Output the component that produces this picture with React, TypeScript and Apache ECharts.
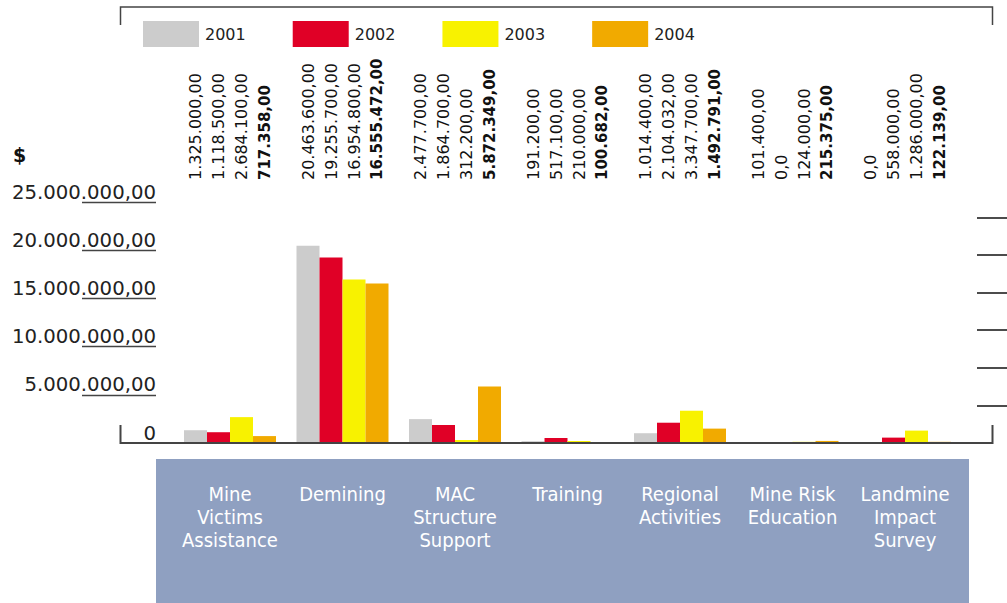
import React, { useEffect, useRef } from "react";
import * as echarts from "echarts";

const categories = [
  "Mine\nVictims\nAssistance",
  "Demining",
  "MAC\nStructure\nSupport",
  "Training",
  "Regional\nActivities",
  "Mine Risk\nEducation",
  "Landmine\nImpact\nSurvey",
];
const years = ["2001", "2002", "2003", "2004"];
const values2001 = [1325000, 20463600, 2477700, 191200, 1014400, 101400, 0];
const values2002 = [1118500, 19255700, 1864700, 517100, 2104032, 0, 558000];
const values2003 = [2684100, 16954800, 312200, 210000, 3347700, 124000, 1286000];
const values2004 = [717358, 16555472, 5872349, 100682, 1492791, 215375, 122139];
const yTicks = [0, 5000000, 10000000, 15000000, 20000000, 25000000];
const colors = ["#cccccc", "#e00026", "#f8f200", "#f1aa00"];

const seriesValues = [values2001, values2002, values2003, values2004];

function fmt(v: number): string {
  if (v === 0) return "0,0";
  const s = Math.round(v).toString();
  return s.replace(/\B(?=(\d{3})+(?!\d))/g, ".") + ",00";
}

const BAR_W = 23;
const FONT = "'DejaVu Sans', Verdana, sans-serif";

export default function App() {
  const ref = useRef<HTMLDivElement>(null);
  useEffect(() => {
    document.body.style.margin = "0";
    const chart = echarts.init(ref.current!, null, { renderer: "svg" });
    const barSeries = years.map((y, k) => ({
      name: y,
      type: "bar",
      xAxisIndex: 0,
      yAxisIndex: 0,
      barWidth: BAR_W,
      barGap: "0%",
      itemStyle: { color: colors[k] },
      data: seriesValues[k],
    }));
    const labelSeries = years.map((y, k) => ({
      name: "lbl" + y,
      type: "custom",
      xAxisIndex: 0,
      yAxisIndex: 0,
      clip: false,
      encode: { x: 0, y: 1 },
      data: seriesValues[k].map((v, i) => [i, v]),
      renderItem: (params: any, api: any) => {
        const idx = api.value(0);
        const v = api.value(1);
        const pt = api.coord([idx, 0]);
        const x = pt[0] + (k - 1.5) * BAR_W;
        const yb = params.coordSys.y - 22;
        return {
          type: "text",
          x,
          y: yb,
          rotation: Math.PI / 2,
          style: {
            text: fmt(v),
            align: "left",
            verticalAlign: "middle",
            fontSize: k === 3 ? 15 : 16,
            fontFamily: FONT,
            fontWeight: k === 3 ? "bold" : "normal",
            fill: "#111",
          },
        };
      },
    }));
    const option: any = {
      animation: false,
      backgroundColor: "#ffffff",
      title: {
        text: "$",
        left: 13,
        top: 145,
        padding: 0,
        textStyle: { fontSize: 19, fontWeight: "bold", fontFamily: FONT, color: "#111" },
      },
      legend: {
        data: years,
        left: 143,
        top: 21,
        padding: 0,
        itemWidth: 56,
        itemHeight: 26,
        itemGap: 47,
        icon: "rect",
        textStyle: { fontSize: 16, fontFamily: FONT, color: "#222", padding: [0, 0, 0, 1] },
      },
      grid: { left: 173.75, right: 45.75, top: 202, bottom: 160 },
      xAxis: {
        type: "category",
        data: categories,
        axisLine: { show: false },
        axisTick: { show: false },
        axisLabel: {
          interval: 0,
          color: "#ffffff",
          fontSize: 20,
          lineHeight: 23,
          margin: 39,
          fontFamily: "'DejaVu Sans Condensed', 'Liberation Sans Narrow', sans-serif",
        },
      },
      yAxis: [
        {
          type: "value",
          min: 0,
          max: 25000000,
          interval: 5000000,
          position: "left",
          offset: 17.75,
          axisLine: { show: false },
          splitLine: { show: false },
          axisTick: {
            show: true,
            length: 74,
            customValues: yTicks.slice(1),
            lineStyle: { color: "#444", width: 1.3 },
          },
          axisLabel: {
            margin: 0,
            customValues: yTicks,
            verticalAlign: "bottom",
            fontSize: 19.7,
            fontFamily: FONT,
            color: "#222",
            formatter: (v: number) => (v === 0 ? "0" : fmt(v)),
          },
        },
        {
          type: "value",
          min: 0,
          max: 6.41,
          interval: 1,
          position: "right",
          offset: 45.75,
          axisLine: { show: false },
          splitLine: { show: false },
          axisLabel: { show: false },
          axisTick: {
            show: true,
            inside: true,
            length: 30,
            customValues: [1, 2, 3, 4, 5, 6],
            lineStyle: { color: "#111", width: 1.5 },
          },
        },
      ],
      graphic: [
        {
          type: "rect",
          z: 0,
          shape: { x: 156, y: 459, width: 813, height: 144 },
          style: { fill: "#8fa0c1" },
        },
        {
          type: "polyline",
          shape: { points: [[120.5, 25], [120.5, 7], [992.5, 7], [992.5, 25]] },
          style: { stroke: "#444", lineWidth: 1.5, fill: null },
        },
        {
          type: "polyline",
          z: 10,
          shape: { points: [[120.5, 425], [120.5, 443], [992.5, 443], [992.5, 425]] },
          style: { stroke: "#444", lineWidth: 2, fill: null },
        },
      ],
      series: [...barSeries, ...labelSeries],
    };
    chart.setOption(option);
    return () => chart.dispose();
  }, []);
  return <div ref={ref} style={{ width: 1007, height: 603 }} />;
}
